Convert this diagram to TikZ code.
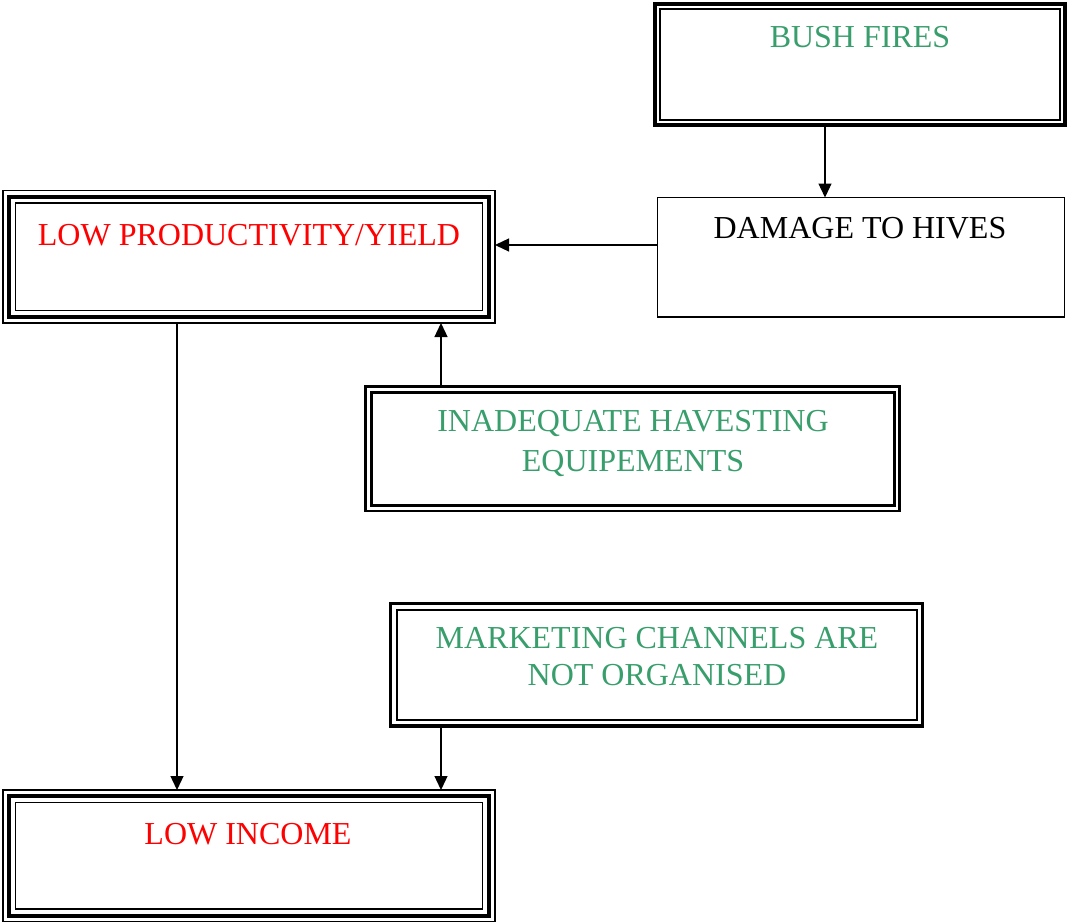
\documentclass[tikz,border=0pt]{standalone}
\usepackage{fontspec}
\setmainfont{Liberation Serif}
\usetikzlibrary{arrows.meta}
\definecolor{tgreen}{RGB}{56,158,108}
\tikzset{arrowtip/.tip={Triangle[length=14pt,width=13pt]}}
\begin{document}
\begin{tikzpicture}[x=1pt,y=-1pt,
 box/.style={inner sep=0pt, outer sep=0pt},
 txt/.style={font=\fontsize{32}{36}\selectfont, inner sep=0pt, anchor=base},
 arr/.style={line width=1.3pt, -arrowtip}]
\useasboundingbox (0,0) rectangle (1068,923);
% boxes
\node[box, draw, line width=3.5pt, minimum width=410pt, minimum height=121pt] (bush) at (860,64.5) {};
\draw[line width=1.4pt] ([shift={(5,5)}]bush.north west) rectangle ([shift={(-5,-5)}]bush.south east);

\node[box, draw, line width=1.5pt, minimum width=407pt, minimum height=119.5pt] (dmg) at (861,257.25) {};

\node[box, draw, line width=1.5pt, minimum width=492pt, minimum height=132.5pt] (prod) at (249,256.75) {};
\draw[line width=4pt] ([shift={(6,6)}]prod.north west) rectangle ([shift={(-6,-6)}]prod.south east);
\draw[line width=1.5pt] ([shift={(12.5,12.5)}]prod.north west) rectangle ([shift={(-12.5,-12.5)}]prod.south east);

\node[box, draw, line width=2.5pt, minimum width=534pt, minimum height=124.5pt] (inad) at (632.5,448.75) {};
\draw[line width=3pt] ([shift={(5.5,5.5)}]inad.north west) rectangle ([shift={(-5.5,-5.5)}]inad.south east);

\node[box, draw, line width=3.5pt, minimum width=532pt, minimum height=122.5pt] (mkt) at (656.5,664.75) {};
\draw[line width=2pt] ([shift={(6,6)}]mkt.north west) rectangle ([shift={(-6,-6)}]mkt.south east);

\node[box, draw, line width=1.5pt, minimum width=492pt, minimum height=131.5pt] (inc) at (249,855.75) {};
\draw[line width=4pt] ([shift={(6,6)}]inc.north west) rectangle ([shift={(-6,-6)}]inc.south east);
\draw[line width=1.5pt] ([shift={(12.5,12.5)}]inc.north west) rectangle ([shift={(-12.5,-12.5)}]inc.south east);

% texts
\node[txt, text=tgreen] (tbush) at (860,48) {BUSH FIRES};
\node[txt] (tdmg) at (860,238) {DAMAGE TO HIVES};
\node[txt, text=red] (tprod) at (249,245) {LOW PRODUCTIVITY/YIELD};
\node[txt, text=tgreen] (tinad1) at (633,431) {INADEQUATE HAVESTING};
\node[txt, text=tgreen] (tinad2) at (633,471) {EQUIPEMENTS};
\node[txt, text=tgreen] (tmkt1) at (657,648) {MARKETING CHANNELS ARE};
\node[txt, text=tgreen] (tmkt2) at (657,685) {NOT ORGANISED};
\node[txt, text=red] (tinc) at (248,844) {LOW INCOME};

% connectors
\draw[arr] (bush.south -| 825,0) -- (dmg.north -| 825,0);
\draw[arr] (dmg.west |- 0,245) -- (prod.east |- 0,245);
\draw[arr] (inad.north -| 441,0) -- (prod.south -| 441,0);
\draw[arr] (prod.south -| 177,0) -- (inc.north -| 177,0);
\draw[arr] (mkt.south -| 441,0) -- (inc.north -| 441,0);
\end{tikzpicture}
\end{document}
